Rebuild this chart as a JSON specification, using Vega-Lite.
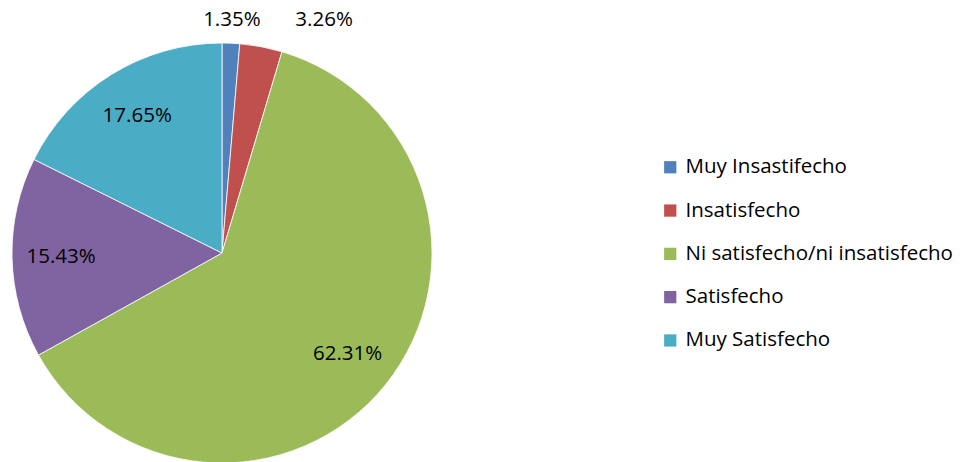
{
  "$schema": "https://vega.github.io/schema/vega-lite/v6.json",
  "autosize": "none",
  "width": 420,
  "height": 418,
  "padding": {"left": 12, "top": 44, "right": 535, "bottom": 0},
  "background": "white",
  "data": {
    "values": [
      {"idx": 1, "cat": "Muy Insastifecho", "pct": 1.35, "label": "1.35%"},
      {"idx": 2, "cat": "Insatisfecho", "pct": 3.26, "label": "3.26%"},
      {"idx": 3, "cat": "Ni satisfecho/ni insatisfecho", "pct": 62.31, "label": "62.31%"},
      {"idx": 4, "cat": "Satisfecho", "pct": 15.43, "label": "15.43%"},
      {"idx": 5, "cat": "Muy Satisfecho", "pct": 17.65, "label": "17.65%"}
    ]
  },
  "encoding": {
    "theta": {"field": "pct", "type": "quantitative", "stack": true},
    "order": {"field": "idx", "type": "quantitative"}
  },
  "layer": [
    {
      "mark": {"type": "arc", "outerRadius": 210, "stroke": "#ffffff", "strokeWidth": 0.8},
      "encoding": {
        "color": {
          "field": "cat",
          "type": "nominal",
          "scale": {
            "domain": ["Muy Insastifecho", "Insatisfecho", "Ni satisfecho/ni insatisfecho", "Satisfecho", "Muy Satisfecho"],
            "range": ["#4F81BD", "#C0504D", "#9BBB59", "#8064A2", "#4BACC6"]
          },
          "legend": {
            "title": null,
            "orient": "none",
            "legendX": 648,
            "legendY": 113,
            "symbolType": "square",
            "symbolSize": 150,
            "symbolStrokeWidth": 0,
            "labelFont": "Open Sans",
            "labelFontSize": 20.5,
            "labelColor": "#000000",
            "labelOffset": 5,
            "rowPadding": 22.3,
            "labelLimit": 400
          }
        }
      }
    },
    {
      "mark": {"type": "text", "radius": 161, "font": "Open Sans", "fontSize": 20.5, "color": "#000000"},
      "encoding": {"text": {"condition": {"test": "datum.idx >= 3", "field": "label"}, "value": ""}}
    },
    {
      "mark": {"type": "text", "radius": 233, "font": "Open Sans", "fontSize": 20.5, "color": "#000000"},
      "encoding": {"text": {"condition": {"test": "datum.idx == 1", "field": "label"}, "value": ""}}
    },
    {
      "mark": {"type": "text", "radius": 237, "dx": 58, "font": "Open Sans", "fontSize": 20.5, "color": "#000000"},
      "encoding": {"text": {"condition": {"test": "datum.idx == 2", "field": "label"}, "value": ""}}
    }
  ]
}
